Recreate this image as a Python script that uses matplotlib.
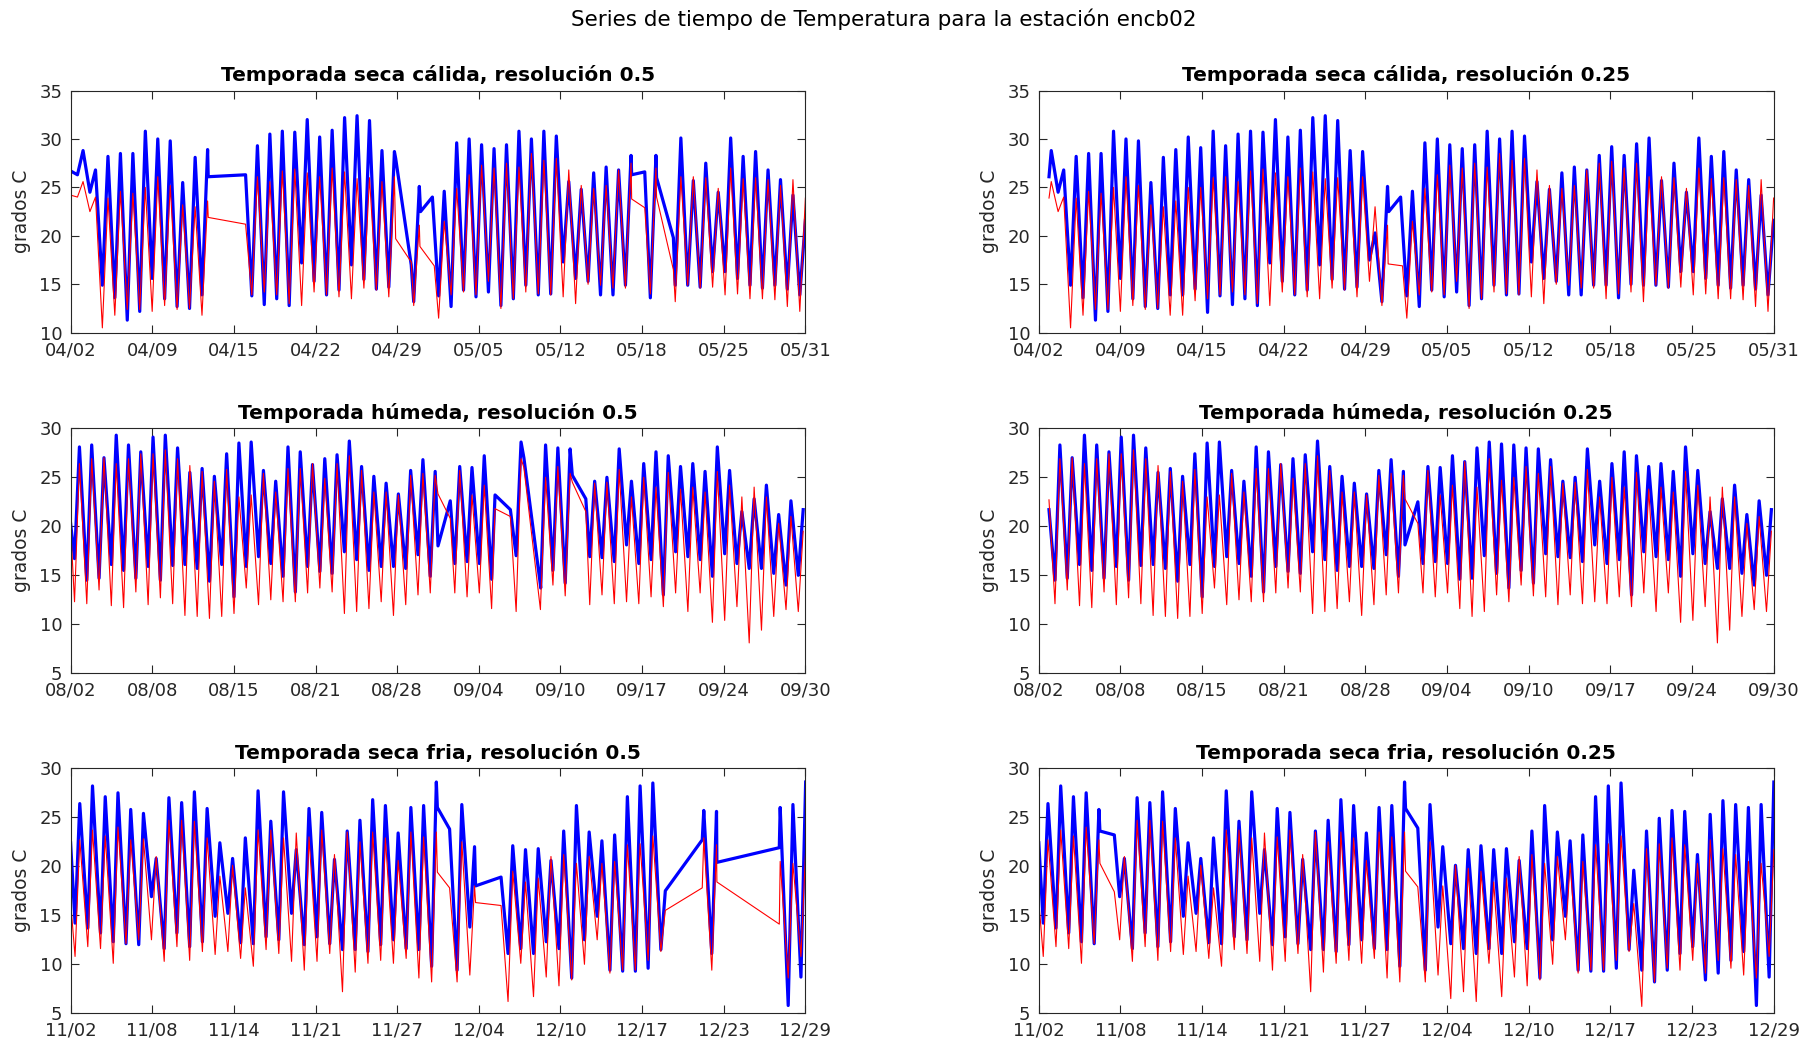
import numpy as np
import matplotlib
matplotlib.use("Agg")
import matplotlib.pyplot as plt

# ---------------------------------------------------------------------------
# Daily extremes (one diurnal cycle per entry). "obs" = station (blue),
# "mod" = model (red). hi = afternoon maximum, lo = morning minimum.
# ---------------------------------------------------------------------------

# Temporada seca cálida (04/02 - 05/31)
top_obs_hi = [26.7, 28.8, 26.8, 28.2, 28.5, 28.5, 30.8, 30.0, 29.8, 25.5,
              28.1, 28.9, 30.2, 29.1, 30.8, 29.3, 30.5, 30.8, 30.7, 32.0,
              30.2, 30.9, 32.2, 32.4, 31.9, 28.8, 28.7, 20.3, 25.1, 24.0,
              24.6, 29.6, 30.0, 29.4, 29.0, 29.4, 30.8, 30.0, 30.8, 30.3,
              25.6, 24.8, 26.5, 27.1, 26.8, 28.3, 29.2, 28.3, 29.5, 30.1,
              25.7, 27.5, 24.5, 30.1, 28.2, 28.7, 26.8, 25.8, 24.2, 21.6]
top_obs_lo = [26.7, 26.3, 24.5, 14.9, 13.6, 11.3, 12.2, 15.6, 13.5, 12.7,
              12.5, 13.9, 13.9, 14.5, 12.1, 13.8, 12.9, 13.5, 12.8, 17.2,
              15.3, 13.9, 14.4, 17.0, 15.5, 14.5, 14.7, 17.5, 13.2, 22.6,
              13.8, 12.7, 14.4, 13.7, 14.2, 12.8, 13.5, 14.9, 13.9, 14.0,
              17.3, 15.6, 15.3, 13.9, 13.9, 14.9, 14.9, 13.6, 15.0, 14.9,
              14.9, 14.7, 16.3, 16.3, 15.6, 14.9, 14.6, 14.9, 14.5, 13.9]
top_mod_hi = [24.2, 25.6, 24.0, 23.9, 24.6, 24.4, 25.0, 26.1, 25.2, 23.2,
              23.0, 23.6, 25.0, 25.0, 26.0, 26.1, 25.6, 26.7, 26.9, 26.5,
              26.1, 27.0, 26.6, 25.9, 26.0, 25.6, 26.1, 23.0, 21.1, 17.0,
              21.5, 24.9, 26.3, 27.3, 27.0, 27.5, 27.1, 28.5, 27.8, 28.0,
              26.8, 25.2, 24.9, 25.2, 26.8, 27.5, 27.7, 27.0, 27.5, 26.1,
              26.1, 26.0, 24.9, 27.0, 25.9, 26.0, 25.8, 25.2, 25.8, 23.9]
top_mod_lo = [24.2, 24.0, 22.5, 10.5, 11.8, 12.4, 12.4, 12.2, 12.8, 12.4,
              12.5, 11.8, 11.8, 13.3, 13.5, 13.9, 14.2, 13.9, 13.0, 12.8,
              14.2, 13.9, 13.7, 13.5, 14.6, 14.4, 13.7, 15.3, 12.8, 17.1,
              11.5, 13.9, 14.2, 13.9, 15.3, 12.5, 13.5, 14.2, 14.0, 13.9,
              13.7, 13.0, 15.0, 14.9, 14.6, 14.6, 13.5, 14.0, 14.2, 13.2,
              14.9, 14.6, 14.7, 13.9, 14.0, 13.5, 13.5, 13.4, 12.7, 12.2]
top_ticks = ['04/02', '04/09', '04/15', '04/22', '04/29',
             '05/05', '05/12', '05/18', '05/25', '05/31']

# Temporada húmeda (08/02 - 09/30)
mid_obs_hi = [28.1, 28.3, 27.0, 29.3, 28.3, 27.6, 29.1, 29.3, 28.0, 25.5,
              25.9, 25.1, 27.4, 28.5, 28.6, 25.7, 24.6, 28.1, 27.6, 26.3,
              26.9, 27.3, 28.7, 26.1, 25.1, 24.4, 23.3, 25.7, 26.8, 25.6,
              22.5, 26.1, 26.0, 27.2, 26.6, 28.0, 28.6, 28.4, 28.3, 28.0,
              27.9, 26.8, 24.6, 25.0, 27.9, 24.6, 26.4, 27.6, 27.2, 26.1,
              26.4, 25.6, 28.1, 25.7, 21.5, 22.8, 24.2, 21.2, 22.6, 21.7]
mid_obs_lo = [16.7, 14.5, 14.7, 16.1, 15.5, 14.7, 15.9, 14.5, 16.0, 16.1,
              15.7, 14.4, 16.1, 12.8, 15.9, 16.9, 16.2, 14.9, 13.3, 15.9,
              15.4, 15.2, 17.4, 16.6, 15.5, 15.9, 15.9, 15.7, 17.1, 14.9,
              16.5, 16.2, 16.4, 16.2, 14.6, 14.7, 17.0, 15.2, 13.7, 15.5,
              14.2, 17.2, 16.9, 16.8, 16.4, 18.1, 16.2, 16.6, 13.0, 17.4,
              16.9, 16.6, 14.9, 17.2, 16.2, 15.7, 15.7, 15.2, 14.0, 15.0]
mid_mod_hi = [26.4, 26.9, 27.0, 26.4, 26.9, 27.4, 27.4, 27.8, 26.9, 26.2,
              25.6, 24.6, 25.8, 23.0, 23.2, 25.4, 23.5, 25.9, 25.9, 26.4,
              24.9, 26.4, 27.2, 25.7, 23.5, 23.5, 23.2, 25.2, 25.4, 25.2,
              21.0, 25.7, 23.2, 24.2, 26.6, 24.0, 26.9, 24.7, 25.0, 26.1,
              25.4, 26.1, 24.4, 24.5, 25.8, 23.0, 25.0, 24.0, 25.5, 23.8,
              24.0, 23.5, 25.6, 24.2, 23.0, 24.0, 23.0, 20.3, 21.0, 19.5]
mid_mod_lo = [12.3, 12.1, 13.5, 11.9, 11.7, 13.3, 12.0, 12.7, 12.1, 10.9,
              10.8, 10.6, 10.8, 11.1, 13.7, 12.0, 12.5, 12.3, 12.3, 13.2,
              13.7, 13.3, 11.1, 11.3, 11.6, 12.3, 10.9, 12.0, 13.0, 13.2,
              13.2, 13.2, 12.8, 13.2, 11.6, 10.8, 11.3, 13.0, 12.3, 14.0,
              12.9, 12.8, 12.0, 13.0, 12.1, 12.3, 12.1, 12.8, 11.8, 13.2,
              11.3, 13.2, 10.2, 10.4, 11.8, 8.1, 9.4, 10.8, 11.5, 11.3]
mid_ticks = ['08/02', '08/08', '08/15', '08/21', '08/28',
             '09/04', '09/10', '09/17', '09/24', '09/30']

# Temporada seca fria (11/02 - 12/29)
bot_obs_hi = [26.4, 28.2, 27.1, 27.5, 25.8, 25.4, 20.8, 27.0, 26.5, 27.6,
              25.9, 22.4, 20.8, 22.9, 27.7, 24.6, 27.6, 21.7, 25.9, 25.5,
              20.7, 23.6, 24.7, 26.8, 26.2, 23.4, 26.0, 26.2, 28.6, 24.5,
              26.3, 22.0, 20.1, 21.7, 22.1, 21.7, 21.8, 20.6, 23.6, 26.2,
              23.5, 22.6, 23.2, 27.1, 28.2, 28.5, 19.6, 23.6, 24.9, 25.7,
              25.6, 21.2, 25.3, 26.7, 26.3, 26.0, 26.3, 28.6]
bot_obs_lo = [14.2, 13.7, 13.2, 12.3, 12.1, 12.0, 16.9, 11.6, 13.2, 11.8,
              12.3, 14.9, 15.2, 12.2, 12.1, 12.8, 12.5, 15.2, 12.0, 12.8,
              12.1, 11.5, 11.5, 11.3, 12.0, 12.5, 11.6, 11.5, 9.8, 9.4,
              9.4, 13.8, 12.1, 11.6, 11.1, 11.6, 11.1, 12.3, 11.6, 8.6,
              12.5, 14.9, 9.4, 9.3, 9.3, 9.6, 11.5, 9.4, 8.2, 9.4,
              11.1, 11.8, 8.4, 9.1, 10.4, 11.3, 5.8, 8.7]
bot_mod_hi = [22.7, 23.7, 23.1, 24.0, 22.7, 22.8, 21.0, 24.7, 24.7, 24.6,
              22.9, 19.0, 20.1, 17.8, 23.7, 23.7, 22.9, 23.4, 23.0, 23.7,
              21.2, 23.5, 22.5, 23.5, 22.9, 20.6, 23.5, 23.0, 23.5, 19.5,
              22.5, 18.0, 20.1, 19.8, 19.5, 18.4, 18.8, 21.0, 21.2, 20.3,
              21.0, 20.3, 20.5, 22.2, 22.3, 23.1, 16.2, 21.8, 22.3, 22.9,
              22.2, 20.3, 22.7, 21.8, 21.2, 20.5, 20.3, 21.7]
bot_mod_lo = [10.8, 11.8, 11.6, 10.1, 12.1, 12.5, 12.5, 10.3, 11.8, 10.4,
              11.3, 11.0, 11.3, 10.6, 9.8, 11.5, 11.1, 10.3, 9.4, 10.3,
              11.1, 7.2, 9.2, 10.1, 10.4, 10.1, 10.6, 8.6, 8.2, 9.0,
              8.2, 8.9, 6.5, 7.2, 6.2, 10.1, 6.7, 8.7, 7.8, 8.4,
              10.0, 12.5, 9.1, 9.4, 9.4, 10.4, 11.3, 5.7, 8.2, 9.6,
              9.4, 10.4, 9.1, 10.4, 9.6, 8.9, 8.6, 10.8]
bot_ticks = ['11/02', '11/08', '11/14', '11/21', '11/27',
             '12/04', '12/10', '12/17', '12/23', '12/29']

# ---------------------------------------------------------------------------
# Season time frame: time of minimum / maximum within each cycle and the
# length of the plotted window (in cycles).
# ---------------------------------------------------------------------------
seasons = {
    'top': dict(name='Temporada seca cálida', span=59.0, ph_lo=-0.45, ph_hi=0.0,
                ylim=(10, 35), ticks=top_ticks,
                obs=(top_obs_hi, top_obs_lo), mod=(top_mod_hi, top_mod_lo)),
    'mid': dict(name='Temporada húmeda', span=59.9, ph_lo=0.32, ph_hi=0.72,
                ylim=(5, 30), ticks=mid_ticks,
                obs=(mid_obs_hi, mid_obs_lo), mod=(mid_mod_hi, mid_mod_lo)),
    'bot': dict(name='Temporada seca fria', span=57.7, ph_lo=0.35, ph_hi=0.72,
                ylim=(5, 30), ticks=bot_ticks,
                obs=(bot_obs_hi, bot_obs_lo), mod=(bot_mod_hi, bot_mod_lo)),
}

# Missing-data stretches per panel: (t_start, t_end, value_before, value_after).
# The line bridges straight across each stretch.
panels = [
    dict(season='top', res='0.5', start=None,
         obs_gaps=[(11.05, 14.05, 26.1, 26.3), (26.1, 27.35, 28.0, 17.0),
                   (28.1, 29.05, 22.5, 24.0), (45.05, 46.1, 26.3, 26.6),
                   (47.05, 48.4, 26.0, 19.8)],
         mod_gaps=[(11.05, 14.05, 21.9, 21.2), (26.1, 27.35, 19.7, 17.3),
                   (28.05, 29.2, 18.9, 16.9), (45.05, 46.1, 23.8, 22.9),
                   (47.05, 48.4, 24.0, 16.5)],
         obs_first=None, mod_first=None),
    dict(season='top', res='0.25', start=0.82,
         obs_gaps=[(28.1, 29.05, 22.5, 24.0)],
         mod_gaps=[(28.05, 29.2, 17.1, 16.9)],
         obs_first=26.1, mod_first=23.9),
    dict(season='mid', res='0.5', start=0.0,
         obs_gaps=[(29.95, 30.95, 18.0, 22.6), (34.6, 35.85, 23.2, 21.7),
                   (36.95, 38.3, 27.0, 14.0), (40.9, 42.0, 25.2, 22.8)],
         mod_gaps=[(29.95, 30.95, 23.3, 20.8), (34.6, 35.85, 21.8, 21.0),
                   (36.95, 38.3, 26.0, 11.5), (40.9, 42.0, 24.5, 21.5)],
         obs_first=20.3, mod_first=20.0),
    dict(season='mid', res='0.25', start=0.83,
         obs_gaps=[(29.85, 30.9, 18.1, 22.5)],
         mod_gaps=[(29.85, 30.9, 22.8, 20.3)],
         obs_first=21.7, mod_first=22.7),
    dict(season='bot', res='0.5', start=0.0,
         obs_gaps=[(28.8, 29.76, 26.0, 23.8), (31.8, 33.8, 18.0, 18.9),
                   (46.7, 49.6, 17.5, 22.7), (50.75, 55.65, 20.4, 21.9)],
         mod_gaps=[(28.8, 29.76, 19.4, 17.8), (31.8, 33.8, 16.3, 16.0),
                   (46.7, 49.6, 15.5, 17.8), (50.75, 55.65, 18.4, 14.1)],
         obs_first=22.4, mod_first=16.4),
    dict(season='bot', res='0.25', start=0.0,
         obs_gaps=[(4.8, 5.93, 23.6, 23.2), (28.8, 29.76, 25.9, 23.9)],
         mod_gaps=[(4.8, 5.93, 20.3, 17.4), (28.8, 29.76, 19.5, 17.9)],
         obs_first=22.4, mod_first=16.5),
]


def build_series(hi, lo, ph_lo, ph_hi, start, first, gaps):
    """Interleave minima and maxima in time, drop missing stretches."""
    hi = np.asarray(hi, float)
    lo = np.asarray(lo, float)
    k = np.arange(len(hi))
    t = np.column_stack([k + ph_lo, k + ph_hi]).ravel()
    v = np.column_stack([lo, hi]).ravel()
    keep = np.ones(t.size, bool)
    extra_t, extra_v = [], []
    if start is not None:
        keep &= t > start
        if first is not None:
            extra_t.append(start)
            extra_v.append(first)
    for t0, t1, v0, v1 in gaps:
        keep &= ~((t > t0) & (t < t1))
        extra_t += [t0, t1]
        extra_v += [v0, v1]
    tt = np.concatenate([t[keep], extra_t])
    vv = np.concatenate([v[keep], extra_v])
    order = np.argsort(tt, kind='stable')
    return tt[order], vv[order]


# ---------------------------------------------------------------------------
# Figure
# ---------------------------------------------------------------------------
plt.rcParams['font.family'] = ['DejaVu Sans']
W, H = 1818, 1045
fig = plt.figure(figsize=(W / 100, H / 100), dpi=100)
fig.patch.set_facecolor('white')

col_x = [70.6, 1038.8]
ax_w = 734.8
row_y = [(90.5, 332.7), (428.3, 673.3), (768.3, 1013.3)]
axis_col = (0.15, 0.15, 0.15)

for i, p in enumerate(panels):
    s = seasons[p['season']]
    r, c = divmod(i, 2)
    top, bot = row_y[r]
    ax = fig.add_axes([col_x[c] / W, 1 - bot / H, ax_w / W, (bot - top) / H])

    to, vo = build_series(*s['obs'], s['ph_lo'], s['ph_hi'],
                          p['start'], p['obs_first'], p['obs_gaps'])
    tm, vm = build_series(*s['mod'], s['ph_lo'], s['ph_hi'],
                          p['start'], p['mod_first'], p['mod_gaps'])
    ax.plot(to, vo, color=(0, 0, 1), lw=2.3, solid_joinstyle='round')
    ax.plot(tm, vm, color=(1, 0, 0), lw=0.8)

    ax.set_xlim(0, s['span'])
    ax.set_ylim(*s['ylim'])
    ax.set_xticks(np.linspace(0, s['span'], len(s['ticks'])))
    ax.set_xticklabels(s['ticks'])
    ax.set_yticks(np.arange(s['ylim'][0], s['ylim'][1] + 0.1, 5))
    ax.tick_params(direction='in', length=6, width=0.8, colors=axis_col,
                   labelsize=13, top=True, right=True, pad=6)
    for sp in ax.spines.values():
        sp.set_color(axis_col)
        sp.set_linewidth(0.8)
    ax.set_ylabel('grados C', fontsize=13.5, color=axis_col, labelpad=6)
    ax.set_title(f"{s['name']}, resolución {p['res']}", fontsize=14.5,
                 fontweight='bold', pad=7)

fig.text(0.486, 0.982, 'Series de tiempo de Temperatura para la estación encb02',
         ha='center', va='center', fontsize=15.5, color='black')

fig.savefig('out.png', dpi=100, facecolor='white')
